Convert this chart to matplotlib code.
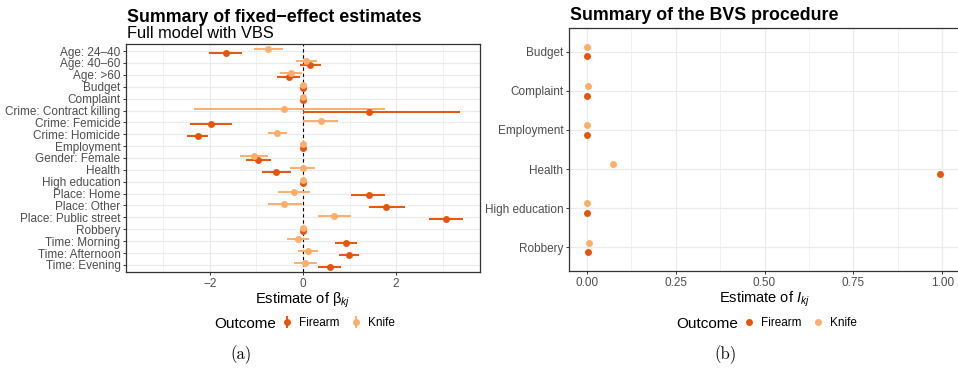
import matplotlib.pyplot as plt
from matplotlib.lines import Line2D

plt.rcParams['font.family'] = ['Liberation Sans', 'DejaVu Sans']
plt.rcParams['mathtext.fontset'] = 'custom'
plt.rcParams['mathtext.rm'] = 'Liberation Sans'
plt.rcParams['mathtext.it'] = 'Liberation Sans:italic'

firearm_col = '#E6550D'
knife_col = '#FDAE6B'
grid_col = '#EBEBEB'
tick_col = '#4D4D4D'

# fixed effects, full model
covariates = ['Age: 24–40', 'Age: 40–60', 'Age: >60', 'Budget', 'Complaint',
              'Crime: Contract killing', 'Crime: Femicide', 'Crime: Homicide',
              'Employment', 'Gender: Female', 'Health', 'High education',
              'Place: Home', 'Place: Other', 'Place: Public street', 'Robbery',
              'Time: Morning', 'Time: Afternoon', 'Time: Evening']
firearm_est = [-1.66, 0.16, -0.31, 0.0, 0.0, 1.42, -1.98, -2.26, 0.0, -0.97,
               -0.57, 0.0, 1.41, 1.79, 3.06, 0.0, 0.92, 0.98, 0.57]
firearm_lo = [-2.01, -0.07, -0.55, 0.0, 0.0, 0.0, -2.42, -2.50, 0.0, -1.23,
              -0.87, 0.0, 1.04, 1.41, 2.70, 0.0, 0.68, 0.77, 0.33]
firearm_hi = [-1.32, 0.38, -0.07, 0.0, 0.0, 3.36, -1.53, -2.03, 0.0, -0.69,
              -0.25, 0.0, 1.77, 2.18, 3.43, 0.0, 1.16, 1.21, 0.82]
knife_est = [-0.75, 0.07, -0.26, 0.0, 0.0, -0.40, 0.38, -0.56, 0.0, -1.06,
             -0.01, 0.0, -0.19, -0.40, 0.67, 0.0, -0.11, 0.10, 0.05]
knife_lo = [-1.05, -0.14, -0.50, 0.0, 0.0, -2.35, 0.0, -0.76, 0.0, -1.36,
            -0.27, 0.0, -0.53, -0.76, 0.33, 0.0, -0.34, -0.10, -0.19]
knife_hi = [-0.42, 0.31, -0.02, 0.0, 0.0, 1.76, 0.76, -0.35, 0.0, -0.76,
            0.25, 0.0, 0.16, -0.03, 1.02, 0.0, 0.13, 0.33, 0.29]

# inclusion probabilities from BVS
bvs_vars = ['Budget', 'Complaint', 'Employment', 'Health', 'High education', 'Robbery']
bvs_firearm = [0.0, 0.001, 0.002, 0.994, 0.001, 0.003]
bvs_knife = [0.0, 0.004, 0.001, 0.073, 0.0, 0.006]


def style_panel(ax):
    ax.set_facecolor('white')
    for s in ax.spines.values():
        s.set_color('#333333')
        s.set_linewidth(0.9)
    ax.tick_params(colors='#333333', labelcolor=tick_col, labelsize=8.5,
                   length=2.5, width=0.7, pad=1.5)
    ax.tick_params(axis='x', pad=2)
    ax.set_axisbelow(True)
    ax.grid(True, which='major', color=grid_col, lw=0.9)
    ax.grid(True, which='minor', axis='x', color=grid_col, lw=0.5)
    ax.tick_params(which='minor', length=0)


fig = plt.figure(figsize=(9.58, 3.71), dpi=100)

# ---- left: fixed effect estimates
ax1 = fig.add_axes([126 / 958, 1 - 272 / 371, 354 / 958, 228 / 371])
style_panel(ax1)
pos = list(range(len(covariates)))
off = 0.14
ax1.axvline(0, color='black', lw=0.8, ls=(0, (3, 2.5)), zorder=1)
for est, lo, hi, col, d in [(firearm_est, firearm_lo, firearm_hi, firearm_col, off),
                            (knife_est, knife_lo, knife_hi, knife_col, -off)]:
    y = [p + d for p in pos]
    ax1.hlines(y, lo, hi, color=col, lw=1.4, zorder=2)
    ax1.plot(est, y, 'o', color=col, ms=5, mec='none', zorder=3)
ax1.set_yticks(pos)
ax1.set_yticklabels(covariates)
ax1.set_ylim(18.6, -0.6)
ax1.set_xlim(-3.8, 3.8)
ax1.set_xticks([-2, 0, 2])
ax1.set_xticklabels(['−2', '0', '2'])
ax1.set_xticks([-3, -1, 1, 3], minor=True)
ax1.set_xlabel('Estimate of β$_{kj}$', fontsize=10.5, labelpad=0.5)
fig.text(127 / 958, 1 - 17 / 371, 'Summary of fixed\u2212effect estimates',
         fontsize=12.8, fontweight='bold', va='center', ha='left')
fig.text(127 / 958, 1 - 34 / 371, 'Full model with VBS',
         fontsize=11.8, va='center', ha='left')

# ---- right: BVS inclusion
ax2 = fig.add_axes([569 / 958, 1 - 271 / 371, 391 / 958, 243 / 371])
style_panel(ax2)
pos2 = list(range(len(bvs_vars)))
off2 = 0.125
ax2.plot(bvs_firearm, [p + off2 for p in pos2], 'o', color=firearm_col, ms=5, mec='none')
ax2.plot(bvs_knife, [p - off2 for p in pos2], 'o', color=knife_col, ms=5, mec='none')
ax2.set_yticks(pos2)
ax2.set_yticklabels(bvs_vars)
ax2.set_ylim(5.6, -0.6)
ax2.set_xlim(-0.05, 1.05)
ax2.set_xticks([0, 0.25, 0.5, 0.75, 1.0])
ax2.set_xticklabels(['0.00', '0.25', '0.50', '0.75', '1.00'])
ax2.set_xticks([0.125, 0.375, 0.625, 0.875], minor=True)
ax2.set_xlabel('Estimate of $I_{kj}$', fontsize=10.5, labelpad=0.5)
fig.text(570 / 958, 1 - 15 / 371, 'Summary of the BVS procedure',
         fontsize=12.8, fontweight='bold', va='center', ha='left')

# ---- legends
range_handles = []
point_handles = []
for col in [firearm_col, knife_col]:
    bar = Line2D([], [], color=col, marker='|', ls='none', ms=8, mew=1.4)
    dot = Line2D([], [], color=col, marker='o', ls='none', ms=5, mec='none')
    range_handles.append((bar, dot))
    point_handles.append(dot)

for ax, handles, x_title, x_leg in [(ax1, range_handles, 214, 280),
                                    (ax2, point_handles, 676, 742)]:
    fig.text(x_title / 958, 1 - 324 / 371, 'Outcome', fontsize=11,
             va='center', ha='left')
    leg = ax.legend(handles, ['Firearm', 'Knife'], ncol=2, frameon=False,
                    loc='center left', bbox_to_anchor=(x_leg / 958, 1 - 323 / 371),
                    bbox_transform=fig.transFigure, fontsize=8.5,
                    handlelength=1.2, handletextpad=0.4, columnspacing=0.8,
                    borderpad=0, borderaxespad=0)

fig.text(241 / 958, 1 - 355 / 371, '(a)', family='cmr10', fontsize=12,
         ha='center', va='center')
fig.text(726 / 958, 1 - 355 / 371, '(b)', family='cmr10', fontsize=12,
         ha='center', va='center')

fig.savefig('out.png', dpi=100)
